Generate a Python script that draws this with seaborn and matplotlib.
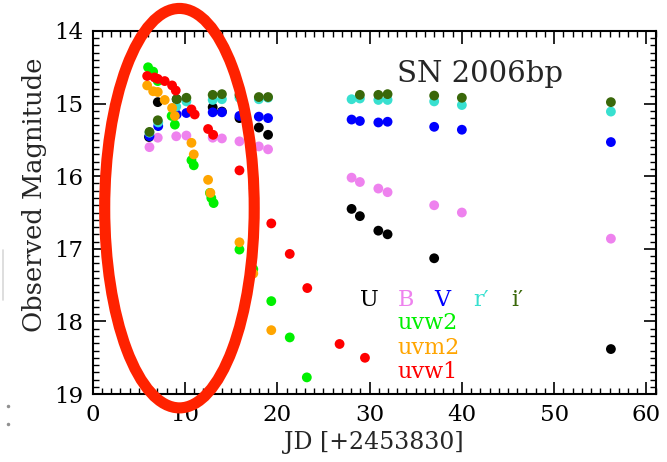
import numpy as np
import pandas as pd
import matplotlib
matplotlib.use("Agg")
import matplotlib.pyplot as plt
from matplotlib.patches import Ellipse
from matplotlib.lines import Line2D
from matplotlib.ticker import MultipleLocator
import seaborn as sns

# ---- data (JD - 2453830, observed magnitude) ----
U_jd  = [6.1, 7.05, 9.1, 13.0, 14.0, 15.9, 18.0, 19.0, 28.05, 28.95, 30.95, 31.95, 37.0, 56.15]
U_mag = [15.46, 14.98, 14.94, 15.05, 15.11, 15.20, 15.33, 15.43, 16.45, 16.55, 16.75, 16.80, 17.13, 18.38]

B_jd  = [6.15, 7.05, 9.05, 10.15, 13.0, 14.0, 15.9, 18.0, 19.0, 28.05, 28.95, 30.95, 31.95, 37.0, 40.0, 56.15]
B_mag = [15.60, 15.47, 15.45, 15.44, 15.47, 15.48, 15.52, 15.59, 15.63, 16.02, 16.08, 16.17, 16.22, 16.40, 16.50, 16.86]

V_jd  = [6.15, 7.1, 9.1, 10.15, 13.0, 14.0, 15.9, 18.0, 19.0, 28.05, 28.95, 30.95, 31.95, 37.0, 40.0, 56.15]
V_mag = [15.45, 15.31, 15.15, 15.13, 15.12, 15.12, 15.17, 15.18, 15.20, 15.22, 15.24, 15.26, 15.25, 15.32, 15.36, 15.53]

r_jd  = [6.15, 7.1, 9.05, 10.15, 13.0, 14.0, 15.9, 18.0, 19.0, 28.05, 28.95, 30.95, 31.95, 37.0, 40.0, 56.15]
r_mag = [15.40, 15.26, 15.04, 14.97, 14.95, 14.94, 14.92, 14.94, 14.92, 14.94, 14.93, 14.95, 14.95, 14.97, 15.02, 15.11]

i_jd  = [6.15, 7.05, 9.1, 10.15, 13.0, 14.0, 15.9, 18.0, 19.0, 28.95, 30.95, 31.95, 37.0, 40.0, 56.15]
i_mag = [15.39, 15.23, 14.94, 14.92, 14.88, 14.87, 14.88, 14.91, 14.91, 14.88, 14.88, 14.87, 14.89, 14.92, 14.98]

uvw2_jd  = [6.0, 6.55, 7.05, 8.55, 8.9, 10.7, 10.95, 12.7, 12.85, 13.1, 15.9, 17.4, 19.35, 21.35, 23.2]
uvw2_mag = [14.50, 14.56, 14.69, 15.17, 15.29, 15.78, 15.85, 16.23, 16.30, 16.37, 17.01, 17.28, 17.72, 18.22, 18.77]

uvm2_jd  = [5.9, 6.55, 7.05, 7.8, 8.6, 8.9, 10.7, 10.95, 12.5, 12.75, 15.9, 17.4, 19.35]
uvm2_mag = [14.75, 14.83, 14.84, 14.95, 15.06, 15.17, 15.54, 15.70, 16.05, 16.23, 16.91, 17.34, 18.12]

uvw1_jd  = [5.9, 6.7, 7.05, 7.8, 8.6, 9.0, 10.7, 11.05, 12.5, 13.05, 15.9, 17.45, 19.35, 21.35, 23.25, 26.75, 29.5]
uvw1_mag = [14.62, 14.64, 14.66, 14.69, 14.75, 14.82, 15.08, 15.15, 15.35, 15.43, 15.92, 16.17, 16.65, 17.07, 17.54, 18.31, 18.50]

bands  = ["U", "B", "V", "r′", "i′", "uvw2", "uvm2", "uvw1"]
colors = ["black", "violet", "#0000ff", "#38e0d0", "#3a680a", "#00f000", "#ffa500", "#ff0000"]
series = [(U_jd, U_mag), (B_jd, B_mag), (V_jd, V_mag), (r_jd, r_mag), (i_jd, i_mag),
          (uvw2_jd, uvw2_mag), (uvm2_jd, uvm2_mag), (uvw1_jd, uvw1_mag)]

frames = []
for b, (j, m) in zip(bands, series):
    frames.append(pd.DataFrame({"jd": j, "mag": m, "band": b}))
df = pd.concat(frames, ignore_index=True)

sns.set_style("ticks")
plt.rcParams["font.family"] = ["DejaVu Serif"]

fig = plt.figure(figsize=(6.67, 4.62), dpi=100)
ax = fig.add_axes([0.139, 0.147, 0.844, 0.786])

sns.scatterplot(data=df, x="jd", y="mag", hue="band", hue_order=bands,
                palette=dict(zip(bands, colors)), s=50, linewidth=0,
                legend=False, ax=ax, zorder=3)

ax.set_xlim(0, 61)
ax.set_ylim(19, 14)
ax.xaxis.set_major_locator(MultipleLocator(10))
ax.xaxis.set_minor_locator(MultipleLocator(1))
ax.yaxis.set_major_locator(MultipleLocator(1))
ax.yaxis.set_minor_locator(MultipleLocator(0.1))
ax.tick_params(which="both", direction="in", top=True, right=True, colors="black")
ax.tick_params(which="major", length=9, width=1.2, labelsize=16.5, pad=7)
ax.tick_params(which="minor", length=4, width=1.0)
for sp in ax.spines.values():
    sp.set_linewidth(1.5)
    sp.set_color("black")

ax.set_xlabel("JD [+2453830]", fontsize=17, labelpad=4)
ax.set_ylabel("Observed Magnitude", fontsize=18.5)
ax.yaxis.set_label_coords(-0.082, 0.55)

ax.text(33.0, 14.70, "SN 2006bp", fontsize=21, ha="left", va="baseline")

for b, c, x in zip(bands[:5], colors[:5], [30.0, 33.9, 37.9, 42.1, 46.0]):
    ax.text(x, 17.70, b, color=c, fontsize=16, ha="center", va="center")
for b, c, y in zip(bands[5:], colors[5:], [18.02, 18.37, 18.70]):
    ax.text(33.0, y, b, color=c, fontsize=16, ha="left", va="center")

ell = Ellipse((9.4, 16.44), width=16.2, height=5.5, fill=False,
              edgecolor="#ff2200", linewidth=8, clip_on=False, zorder=5)
ax.add_patch(ell)

# faint scan artefacts at the left edge
fig.add_artist(Line2D([0.004, 0.004], [1 - 250 / 462, 1 - 300 / 462],
                      transform=fig.transFigure, color="#d8d8d8", linewidth=1.2))
fig.add_artist(Line2D([8 / 667, 8 / 667], [1 - 406 / 462, 1 - 424 / 462],
                      transform=fig.transFigure, color="#909090", linestyle="none",
                      marker="o", markersize=1.5))

fig.savefig("out.png", dpi=100)
